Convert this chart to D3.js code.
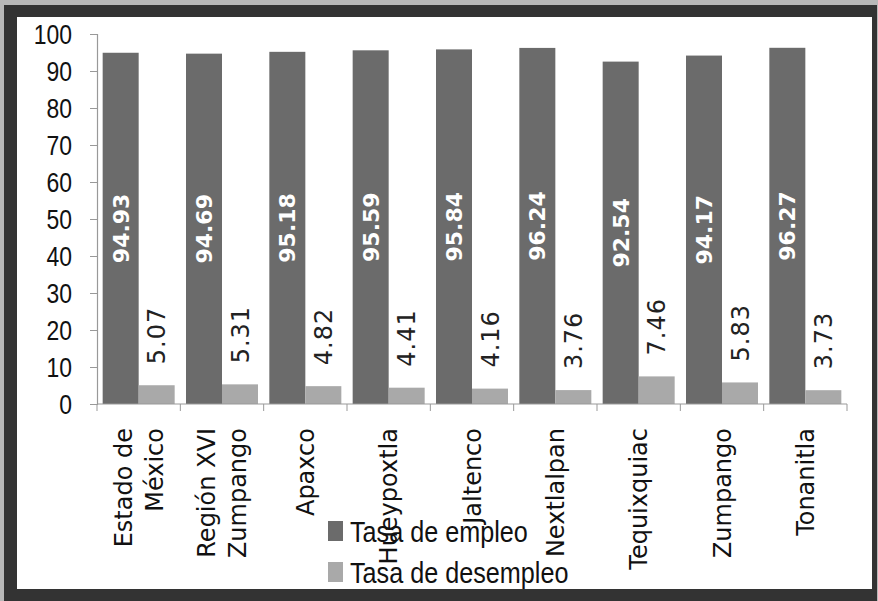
<!DOCTYPE html>
<html><head><meta charset="utf-8">
<script src="https://cdn.jsdelivr.net/npm/d3@7/dist/d3.min.js"></script>
<style>html,body{margin:0;padding:0;background:#fff;}svg{display:block;}</style>
</head><body>
<script>
const categories = [["Estado de","México"],["Región XVI","Zumpango"],["Apaxco"],["Hueypoxtla"],["Jaltenco"],["Nextlalpan"],["Tequixquiac"],["Zumpango"],["Tonanitla"]];
const empleo = [94.93,94.69,95.18,95.59,95.84,96.24,92.54,94.17,96.27];
const desempleo = [5.07,5.31,4.82,4.41,4.16,3.76,7.46,5.83,3.73];
const seriesNames = ["Tasa de empleo","Tasa de desempleo"];
const yTicks = [0,10,20,30,40,50,60,70,80,90,100];

const W=878,H=601;
const svg=d3.select("body").append("svg").attr("width",W).attr("height",H);
// frame
svg.append("rect").attr("width",W).attr("height",H).attr("fill","#b8b8b8");
svg.append("rect").attr("x",4).attr("y",5).attr("width",873).attr("height",596).attr("fill","#333");
svg.append("rect").attr("x",17).attr("y",17).attr("width",855).attr("height",572).attr("fill","#fff");

const keys = categories.map((c,i)=>i);
const x = d3.scaleBand().domain(keys).range([97,847]).paddingInner(0.136).paddingOuter(0.068);
const xs = d3.scaleBand().domain([0,1]).range([0,x.bandwidth()]);
const xStep = d3.scaleBand().domain(keys).range([97,847]);
const y = d3.scaleLinear().domain([0,100]).range([404,34]);

const narrow = 0.85;
// y axis
const yAxis = svg.append("g").attr("transform","translate(97,0)")
  .call(d3.axisLeft(y).tickValues(yTicks).tickSize(7).tickPadding(18));
yAxis.select(".domain").attr("stroke","#999").attr("stroke-width",1.2);
yAxis.selectAll(".tick line").attr("stroke","#999");
yAxis.selectAll(".tick text").attr("font-family","'Liberation Sans',sans-serif")
  .attr("font-size",27).attr("fill","#111").attr("dy","0.35em")
  .attr("x",-25/narrow).attr("transform",`scale(${narrow},1)`);

// bars
const colors=["#6b6b6b","#a9a9a9"];
const data=[empleo,desempleo];
data.forEach((arr,s)=>{
  svg.append("g").selectAll("rect").data(arr).join("rect")
    .attr("x",(d,i)=>x(i)+xs(s)).attr("width",xs.bandwidth())
    .attr("y",d=>y(d)).attr("height",d=>y(0)-y(d))
    .attr("fill",colors[s]);
});

// x axis
const xAxisG = svg.append("g").attr("transform","translate(0,404)");
xAxisG.append("line").attr("x1",97).attr("x2",847).attr("stroke","#999").attr("stroke-width",1.2);
xAxisG.selectAll("line.tk").data(d3.range(categories.length+1)).join("line").attr("class","tk")
  .attr("x1",i=>97+i*xStep.step()).attr("x2",i=>97+i*xStep.step()).attr("y1",0).attr("y2",7).attr("stroke","#999");

// category labels
categories.forEach((lines,i)=>{
  const cx = x(i)+x.bandwidth()/2;
  const n=lines.length;
  lines.forEach((t,j)=>{
    const lx = cx + (j-(n-1)/2)*31;
    svg.append("text").attr("transform",`translate(${lx},428) rotate(-90)`)
      .attr("text-anchor","end").attr("dy","0.36em")
      .attr("font-family","'DejaVu Sans',sans-serif").attr("font-size",24).attr("fill","#111").text(t);
  });
});

// value labels
empleo.forEach((v,i)=>{
  const cx=x(i)+xs(0)+xs.bandwidth()/2;
  svg.append("text").attr("transform",`translate(${cx},${(y(v)+y(0))/2}) rotate(-90)`)
    .attr("text-anchor","middle").attr("dy","0.36em")
    .attr("font-family","'DejaVu Sans',sans-serif").attr("font-weight","bold").attr("font-size",22)
    .attr("fill","#fff").text(v.toFixed(2));
});
desempleo.forEach((v,i)=>{
  const cx=x(i)+xs(1)+xs.bandwidth()/2;
  svg.append("text").attr("transform",`translate(${cx},${y(v)-21}) rotate(-90)`)
    .attr("text-anchor","start").attr("dy","0.36em")
    .attr("font-family","'DejaVu Sans',sans-serif").attr("font-size",24).attr("letter-spacing",1)
    .attr("fill","#222").text(v.toFixed(2));
});

// legend
seriesNames.forEach((nm,s)=>{
  const ly = 531 + s*41;
  svg.append("rect").attr("x",328).attr("y",ly-10).attr("width",15).attr("height",20).attr("fill",colors[s]);
  svg.append("text").attr("transform",`translate(350,${ly}) scale(0.84,1)`).attr("dy","0.35em")
    .attr("font-family","'Liberation Sans',sans-serif").attr("font-size",30)
    .attr("fill","#111").text(nm);
});
</script>
</body></html>
